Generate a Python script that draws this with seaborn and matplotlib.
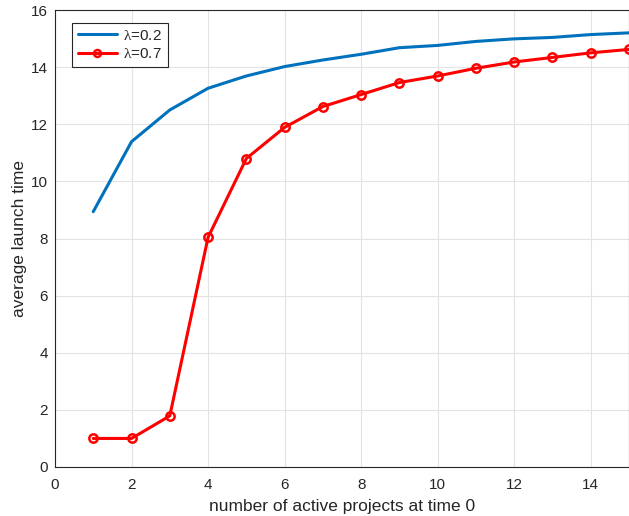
import numpy as np
import pandas as pd
import matplotlib
matplotlib.use("Agg")
import matplotlib.pyplot as plt
import seaborn as sns

sns.set_style("whitegrid")
plt.rcParams.update({
    'font.family': ['Liberation Sans', 'DejaVu Sans'],
    'mathtext.fontset': 'custom',
    'mathtext.rm': 'Liberation Serif',
    'axes.labelsize': 12.5,
    'xtick.labelsize': 11,
    'ytick.labelsize': 11,
})

# datos
n_projects = list(range(1, 16))
launch_02 = [8.94, 11.39, 12.50, 13.26, 13.69, 14.02, 14.25, 14.45,
             14.68, 14.76, 14.90, 14.99, 15.04, 15.14, 15.20]
launch_07 = [1.0, 1.0, 1.79, 8.04, 10.80, 11.89, 12.62, 13.04,
             13.46, 13.69, 13.96, 14.18, 14.34, 14.50, 14.62]

df = pd.DataFrame({'n': n_projects, 'l02': launch_02, 'l07': launch_07})

fig = plt.figure(figsize=(6.29, 5.16), dpi=100)
ax = fig.add_axes([55 / 629, 49 / 516, 1 - 55 / 629, 457 / 516])

sns.lineplot(data=df, x='n', y='l02', color='#0072BD', linewidth=2.2,
             label=r'$\mathrm{\lambda}$=0.2', ax=ax)
sns.lineplot(data=df, x='n', y='l07', color='#FF0000', linewidth=2.2,
             marker='o', markersize=6, markerfacecolor='none',
             markeredgecolor='#FF0000', markeredgewidth=1.8,
             label=r'$\mathrm{\lambda}$=0.7', ax=ax)

ax.set_xlim(0, 15)
ax.set_ylim(0, 16)
ax.set_xticks(np.arange(0, 15, 2))
ax.set_yticks(np.arange(0, 17, 2))
ax.grid(True, color='#e3e3e3', linewidth=0.8)
ax.tick_params(direction='in', length=3, color='#262626', labelcolor='#262626')
ax.tick_params(axis='x', pad=8)
ax.tick_params(axis='y', pad=5)
for s in ax.spines.values():
    s.set_color('#262626')
    s.set_linewidth(0.8)
ax.set_xlabel('number of active projects at time 0', color='#262626', labelpad=5)
ax.set_ylabel('average launch time', color='#262626', labelpad=3)

leg = ax.legend(loc='upper left', bbox_to_anchor=(0.03, 0.971), fancybox=False,
                framealpha=1, edgecolor='#262626', fontsize=11,
                handlelength=2.6, handletextpad=0.4, borderpad=0.35,
                labelspacing=0.3, borderaxespad=0)
leg.get_frame().set_linewidth(0.8)
for h in leg.get_lines():
    h.set_markersize(5)
    h.set_markerfacecolor('none')

plt.savefig('out.png', dpi=100)
plt.close()
